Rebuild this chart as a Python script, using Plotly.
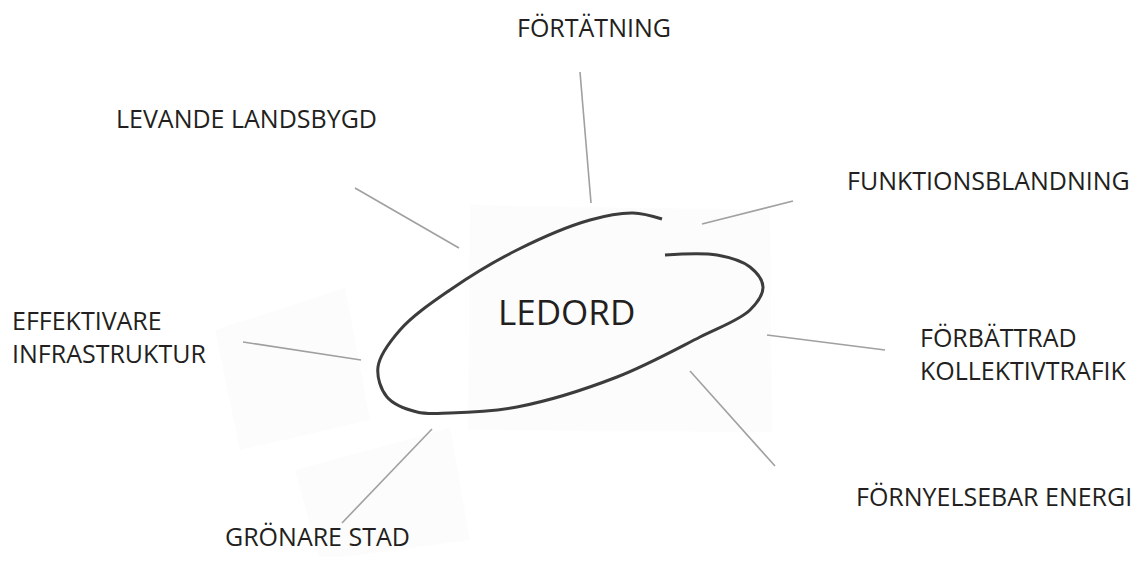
import plotly.graph_objects as go

W, H = 1147, 565
PAD = 8  # default page body margin

# Keyword labels (text, x, y, anchor)
labels = ["FÖRTÄTNING", "LEVANDE LANDSBYGD", "FUNKTIONSBLANDNING",
          "EFFEKTIVARE<br>INFRASTRUKTUR", "FÖRBÄTTRAD<br>KOLLEKTIVTRAFIK",
          "FÖRNYELSEBAR ENERGI", "GRÖNARE STAD"]
label_x = [594, 246, 988, 10, 918, 1134, 317]
label_y = [27, 118, 180, 336, 353, 496, 536]
label_anchor = ["center", "center", "center", "left", "left", "right", "center"]

# Spokes: start and end points
spoke_x0 = [580, 355, 702, 243, 767, 690, 432]
spoke_y0 = [72, 188, 224, 342, 335, 371, 429]
spoke_x1 = [591, 459, 793, 361, 885, 775, 342]
spoke_y1 = [203, 248, 201, 360, 350, 466, 523]

# Hand-drawn loop around the centre word
loop_x = [662, 633, 590, 517, 450, 400, 378, 387, 417, 450, 517, 617, 700, 750, 763, 750, 717, 665]
loop_y = [219, 213, 220, 250, 290, 330, 367, 397, 412, 413, 407, 377, 337, 310, 287, 267, 255, 255]

center_text = "LEDORD"

fig = go.Figure()

# faint paper patches
patches = [
    "M 470 205 L 770 210 L 772 432 L 468 430 Z",
    "M 215 330 L 345 288 L 370 420 L 240 450 Z",
    "M 295 470 L 450 428 L 470 540 L 320 560 Z",
]
for p in patches:
    fig.add_shape(type="path", path=p, fillcolor="#fcfcfc", line=dict(width=0), layer="below")

for x0, y0, x1, y1 in zip(spoke_x0, spoke_y0, spoke_x1, spoke_y1):
    fig.add_trace(go.Scatter(x=[x0, x1], y=[y0, y1], mode="lines",
                             line=dict(color="#a0a0a0", width=1.6),
                             hoverinfo="skip", showlegend=False))

fig.add_trace(go.Scatter(x=loop_x, y=loop_y, mode="lines",
                         line=dict(color="#3c3c3c", width=3.0, shape="spline", smoothing=1.0),
                         hoverinfo="skip", showlegend=False))

for t, x, y, a in zip(labels, label_x, label_y, label_anchor):
    fig.add_annotation(x=x, y=y, text=t, showarrow=False, xanchor=a, yanchor="middle",
                       align="left", font=dict(family="Open Sans", size=25, color="#231f20"))

fig.add_annotation(x=566, y=311, text=center_text, showarrow=False,
                   font=dict(family="Open Sans", size=35, color="#231f20"))

fig.update_xaxes(range=[PAD, W - PAD], visible=False, fixedrange=True)
fig.update_yaxes(range=[H - PAD, PAD], visible=False, fixedrange=True)
fig.update_layout(width=W - 2 * PAD, height=H - 2 * PAD, margin=dict(l=0, r=0, t=0, b=0),
                  plot_bgcolor="white", paper_bgcolor="white")

fig.write_html("out.html")
